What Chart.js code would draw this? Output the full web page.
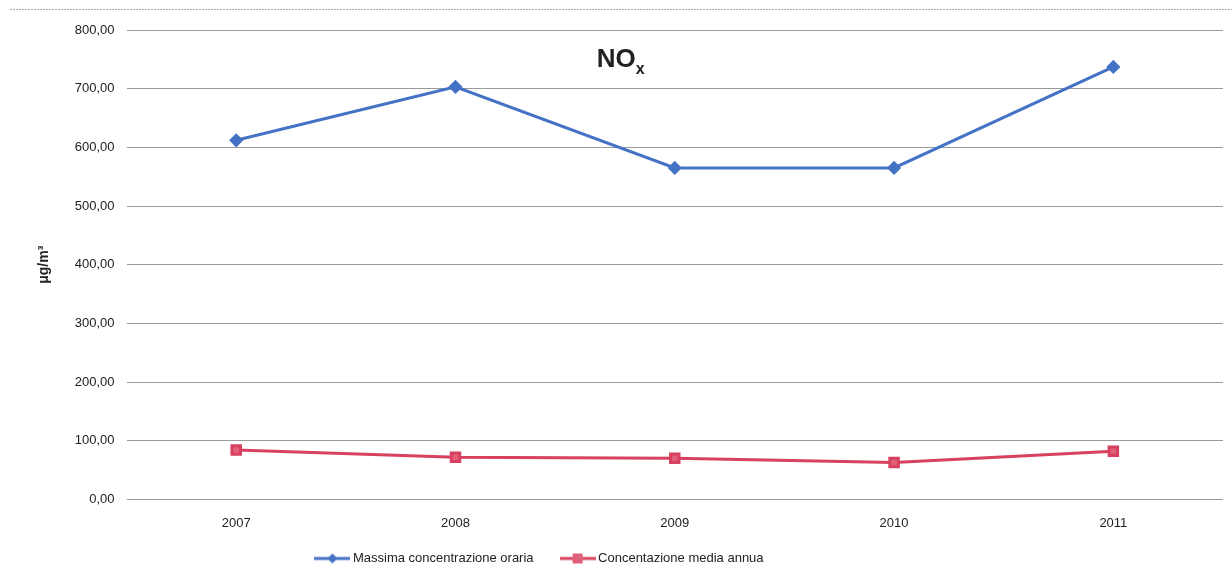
<!DOCTYPE html>
<html>
<head>
<meta charset="utf-8">
<script src="https://cdn.jsdelivr.net/npm/chart.js@4/dist/chart.umd.min.js"></script>
<style>
  html, body { margin: 0; padding: 0; background: #fff; }
  #wrap { width: 1232px; height: 579px; }
</style>
</head>
<body>
<div id="wrap"><canvas id="myChart"></canvas></div>
<script>
const anni = ['2007', '2008', '2009', '2010', '2011'];
const massimaOraria = [612, 703, 565, 565, 737];
const mediaAnnua = [84, 72, 70, 63, 82];
const tickValori = [0, 100, 200, 300, 400, 500, 600, 700, 800];

const BLU = '#4472c4';
const ROSSO = '#d8405f';
const FONT = '"Liberation Sans", Arial, sans-serif';
const SPAZIO_LEG = 30;   // distanza orizzontale tra le voci della legenda

// piccola icona per la legenda: linea + marcatore
function iconaLegenda(colore, forma) {
    const c = document.createElement('canvas');
    c.width = 36; c.height = 12;
    const g = c.getContext('2d');
    g.strokeStyle = colore;
    g.lineWidth = 3;
    g.beginPath(); g.moveTo(0, 6); g.lineTo(36, 6); g.stroke();
    g.fillStyle = colore;
    if (forma === 'rombo') {
        g.beginPath(); g.moveTo(18, 1); g.lineTo(23, 6); g.lineTo(18, 11); g.lineTo(13, 6); g.closePath(); g.fill();
    } else {
        g.fillStyle = '#e0607a';
        g.fillRect(13, 1, 10, 10);
    }
    return c;
}

// la legenda usa padding grande in orizzontale, qui si toglie lo spazio verticale in piu
const legendaCompatta = {
    id: 'legendaCompatta',
    afterInit(chart) {
        const leg = chart.legend;
        const fit = leg.fit;
        leg.fit = function () { fit.call(this); this.height -= (SPAZIO_LEG - 5); };
    },
    afterLayout(chart) {
        const leg = chart.legend;
        leg.top -= (SPAZIO_LEG - 5);
        leg.left -= 84;
        leg.right -= 84;
    }
};

// titolo NOx dentro l'area del grafico
const titoloNOx = {
    id: 'titoloNOx',
    afterDraw(chart) {
        const g = chart.ctx;
        const x = chart.scales.x.getPixelForValue(2) - 78;
        g.save();
        g.fillStyle = '#222';
        g.textBaseline = 'alphabetic';
        g.font = 'bold 26px ' + FONT;
        g.fillText('NO', x, 67);
        const w = g.measureText('NO').width;
        g.font = 'bold 16px ' + FONT;
        g.fillText('x', x + w, 74);
        // bordo superiore
        g.strokeStyle = '#aaa';
        g.lineWidth = 1;
        g.setLineDash([2, 1]);
        g.beginPath(); g.moveTo(10, 9.5); g.lineTo(1232, 9.5); g.stroke();
        g.restore();
    }
};

const ctx = document.getElementById('myChart');
new Chart(ctx, {
    type: 'line',
    data: {
        labels: anni,
        datasets: [{
            label: 'Massima concentrazione oraria',
            data: massimaOraria,
            borderColor: BLU,
            backgroundColor: BLU,
            borderWidth: 3,
            pointStyle: 'rectRot',
            pointRadius: 5,
            pointHoverRadius: 5,
            tension: 0
        }, {
            label: 'Concentazione media annua',
            data: mediaAnnua,
            borderColor: ROSSO,
            backgroundColor: '#e0607a',
            borderWidth: 3,
            pointStyle: 'rect',
            pointRadius: 6,
            pointHoverRadius: 6,
            tension: 0
        }]
    },
    options: {
        responsive: true,
        maintainAspectRatio: false,
        animation: false,
        layout: { padding: { top: 30, right: 8, left: 26, bottom: 4 } },
        plugins: {
            title: { display: false },
            tooltip: { enabled: false },
            legend: {
                position: 'bottom',
                labels: {
                    usePointStyle: true,
                    pointStyleWidth: 28,
                    boxHeight: 12,
                    color: '#222',
                    font: { size: 13, family: FONT },
                    padding: SPAZIO_LEG,
                    generateLabels(chart) {
                        return [
                            { text: chart.data.datasets[0].label, pointStyle: iconaLegenda(BLU, 'rombo'), datasetIndex: 0, lineWidth: 0, fontColor: '#222' },
                            { text: chart.data.datasets[1].label, pointStyle: iconaLegenda(ROSSO, 'quadrato'), datasetIndex: 1, lineWidth: 0, fontColor: '#222' }
                        ];
                    }
                }
            }
        },
        scales: {
            x: {
                offset: true,
                grid: { display: false, drawTicks: false },
                border: { display: false },
                ticks: { color: '#222', padding: 16, font: { size: 13, family: FONT } }
            },
            y: {
                min: 0,
                max: 800,
                afterBuildTicks(axis) { axis.ticks = tickValori.map(v => ({ value: v })); },
                grid: { color: '#9a9a9a', lineWidth: 1, drawTicks: false },
                border: { display: false },
                title: {
                    display: true,
                    text: 'μg/m³',
                    color: '#222',
                    font: { size: 14, weight: 'bold', family: FONT },
                    padding: { top: 10, bottom: 10 }
                },
                ticks: {
                    color: '#222',
                    padding: 12,
                    font: { size: 13, family: FONT },
                    callback: v => v.toFixed(2).replace('.', ',')
                }
            }
        }
    },
    plugins: [titoloNOx, legendaCompatta]
});
</script>
</body>
</html>
